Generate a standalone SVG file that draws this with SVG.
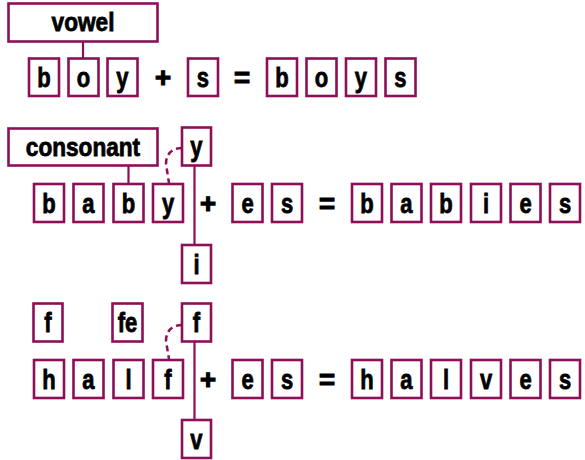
<svg xmlns="http://www.w3.org/2000/svg" width="585" height="460" viewBox="0 0 585 460">
<style>
.b{fill:#fff;stroke:#8c0f57;stroke-width:2.6}
.t{font-family:"Liberation Sans",Arial,sans-serif;font-weight:bold;font-size:27.5px;text-anchor:middle;fill:#000;stroke:#000;stroke-width:0.8}
.l{font-size:26px}
.op{stroke-width:1.2}
.c{stroke:#8c0f57;stroke-width:2.2;fill:none}
.d{stroke-width:2.5;stroke-dasharray:6 4}
</style>
<g id="connectors">
<line class="c" x1="83" y1="41" x2="83" y2="58"/>
<line class="c" x1="128.5" y1="165" x2="128.5" y2="184"/>
<line class="c" x1="194.5" y1="165" x2="194.5" y2="245"/>
<path class="c d" d="M182,148 C172,148 166,154 166,164 L169,183"/>
<line class="c" x1="194.5" y1="341" x2="194.5" y2="420"/>
<path class="c d" d="M182,325 C172,325 166,331 166,341 L169,359"/>
</g>
<g id="vowel"><rect class="b" x="8.5" y="3.5" width="149" height="38"/><text class="t l" transform="scale(0.87 1)" x="95.4" y="31">vowel</text></g>
<g id="consonant"><rect class="b" x="8.5" y="128.5" width="149" height="37"/><text class="t l" transform="scale(0.87 1)" x="95.4" y="156">consonant</text></g>
<g id="row1">
<g id="r1b"><rect class="b" x="29" y="58.5" width="30" height="37.5"/><text class="t" transform="scale(0.8 1)" x="55" y="87">b</text></g>
<g id="r1o"><rect class="b" x="68.5" y="58.5" width="30" height="37.5"/><text class="t" transform="scale(0.8 1)" x="104.4" y="87">o</text></g>
<g id="r1y"><rect class="b" x="107.5" y="58.5" width="30" height="37.5"/><text class="t" transform="scale(0.8 1)" x="153.1" y="87">y</text></g>
<text class="t op" x="163" y="87">+</text>
<g id="r1s"><rect class="b" x="188" y="58.5" width="30" height="37.5"/><text class="t" transform="scale(0.8 1)" x="253.75" y="87">s</text></g>
<text class="t op" x="242" y="87">=</text>
<g id="r1b2"><rect class="b" x="267" y="58.5" width="30" height="37.5"/><text class="t" transform="scale(0.8 1)" x="352.5" y="87">b</text></g>
<g id="r1o2"><rect class="b" x="306.5" y="58.5" width="30" height="37.5"/><text class="t" transform="scale(0.8 1)" x="401.9" y="87">o</text></g>
<g id="r1y2"><rect class="b" x="346" y="58.5" width="30" height="37.5"/><text class="t" transform="scale(0.8 1)" x="451.25" y="87">y</text></g>
<g id="r1s2"><rect class="b" x="385.5" y="58.5" width="30" height="37.5"/><text class="t" transform="scale(0.8 1)" x="500.6" y="87">s</text></g>
</g>
<g id="ytop"><rect class="b" x="182" y="127.5" width="29" height="38"/><text class="t" transform="scale(0.8 1)" x="245.6" y="156">y</text></g>
<g id="ibox"><rect class="b" x="182" y="245" width="29" height="38"/><text class="t" transform="scale(0.8 1)" x="245.6" y="274">i</text></g>
<g id="row2">
<g id="r2b"><rect class="b" x="34" y="184" width="30" height="38"/><text class="t" transform="scale(0.8 1)" x="61.25" y="213">b</text></g>
<g id="r2a"><rect class="b" x="73.5" y="184" width="30" height="38"/><text class="t" transform="scale(0.8 1)" x="110.6" y="213">a</text></g>
<g id="r2b2"><rect class="b" x="113.5" y="184" width="30" height="38"/><text class="t" transform="scale(0.8 1)" x="160.6" y="213">b</text></g>
<g id="r2y"><rect class="b" x="153" y="184" width="30" height="38"/><text class="t" transform="scale(0.8 1)" x="210" y="213">y</text></g>
<text class="t op" x="208" y="213">+</text>
<g id="r2e"><rect class="b" x="232.5" y="184" width="30" height="38"/><text class="t" transform="scale(0.8 1)" x="309.4" y="213">e</text></g>
<g id="r2s"><rect class="b" x="272" y="184" width="30" height="38"/><text class="t" transform="scale(0.8 1)" x="358.75" y="213">s</text></g>
<text class="t op" x="327" y="213">=</text>
<g id="r2o1"><rect class="b" x="352" y="184" width="30" height="38"/><text class="t" transform="scale(0.8 1)" x="458.75" y="213">b</text></g>
<g id="r2o2"><rect class="b" x="391.5" y="184" width="30" height="38"/><text class="t" transform="scale(0.8 1)" x="508.1" y="213">a</text></g>
<g id="r2o3"><rect class="b" x="431" y="184" width="30" height="38"/><text class="t" transform="scale(0.8 1)" x="557.5" y="213">b</text></g>
<g id="r2o4"><rect class="b" x="471" y="184" width="30" height="38"/><text class="t" transform="scale(0.8 1)" x="607.5" y="213">i</text></g>
<g id="r2o5"><rect class="b" x="510.5" y="184" width="30" height="38"/><text class="t" transform="scale(0.8 1)" x="656.9" y="213">e</text></g>
<g id="r2o6"><rect class="b" x="550" y="184" width="30" height="38"/><text class="t" transform="scale(0.8 1)" x="706.25" y="213">s</text></g>
</g>
<g id="f1"><rect class="b" x="33.5" y="303.5" width="29" height="38"/><text class="t" transform="scale(0.8 1)" x="60" y="332">f</text></g>
<g id="fe"><rect class="b" x="112.5" y="303.5" width="30" height="38"/><text class="t" transform="scale(0.8 1)" x="159.4" y="332">fe</text></g>
<g id="ftop"><rect class="b" x="182" y="303.5" width="29" height="38"/><text class="t" transform="scale(0.8 1)" x="245.6" y="332">f</text></g>
<g id="vbox"><rect class="b" x="182" y="420" width="29" height="38"/><text class="t" transform="scale(0.8 1)" x="245.6" y="449">v</text></g>
<g id="row3">
<g id="r3h"><rect class="b" x="34" y="360" width="30" height="38"/><text class="t" transform="scale(0.8 1)" x="61.25" y="389">h</text></g>
<g id="r3a"><rect class="b" x="73.5" y="360" width="30" height="38"/><text class="t" transform="scale(0.8 1)" x="110.6" y="389">a</text></g>
<g id="r3l"><rect class="b" x="113.5" y="360" width="30" height="38"/><text class="t" transform="scale(0.8 1)" x="160.6" y="389">l</text></g>
<g id="r3f"><rect class="b" x="153" y="360" width="30" height="38"/><text class="t" transform="scale(0.8 1)" x="210" y="389">f</text></g>
<text class="t op" x="208" y="389">+</text>
<g id="r3e"><rect class="b" x="232.5" y="360" width="30" height="38"/><text class="t" transform="scale(0.8 1)" x="309.4" y="389">e</text></g>
<g id="r3s"><rect class="b" x="272" y="360" width="30" height="38"/><text class="t" transform="scale(0.8 1)" x="358.75" y="389">s</text></g>
<text class="t op" x="327" y="389">=</text>
<g id="r3o1"><rect class="b" x="352" y="360" width="30" height="38"/><text class="t" transform="scale(0.8 1)" x="458.75" y="389">h</text></g>
<g id="r3o2"><rect class="b" x="391.5" y="360" width="30" height="38"/><text class="t" transform="scale(0.8 1)" x="508.1" y="389">a</text></g>
<g id="r3o3"><rect class="b" x="431" y="360" width="30" height="38"/><text class="t" transform="scale(0.8 1)" x="557.5" y="389">l</text></g>
<g id="r3o4"><rect class="b" x="471" y="360" width="30" height="38"/><text class="t" transform="scale(0.8 1)" x="607.5" y="389">v</text></g>
<g id="r3o5"><rect class="b" x="510.5" y="360" width="30" height="38"/><text class="t" transform="scale(0.8 1)" x="656.9" y="389">e</text></g>
<g id="r3o6"><rect class="b" x="550" y="360" width="30" height="38"/><text class="t" transform="scale(0.8 1)" x="706.25" y="389">s</text></g>
</g>
</svg>
